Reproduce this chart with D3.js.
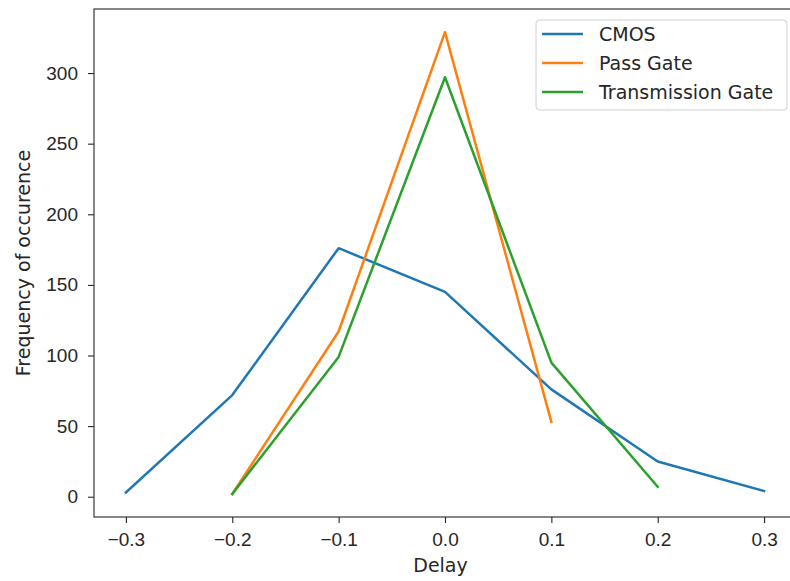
<!DOCTYPE html>
<html>
<head>
<meta charset="utf-8">
<script src="https://cdn.jsdelivr.net/npm/d3@7"></script>
<style>
  html, body { margin: 0; padding: 0; background: #fff; }
  svg { display: block; font-family: "DejaVu Sans", sans-serif; }
  .axis text { font-size: 19px; fill: #262626; }
  .axis path, .axis line { stroke: #262626; stroke-width: 1.1; }
</style>
</head>
<body>
<svg id="chart" width="790" height="581"></svg>
<script>
// Delay distributions for three gate styles
const delays = [-0.3, -0.2, -0.1, 0.0, 0.1, 0.2, 0.3];
const cmos = [3, 72, 176, 145, 76, 25, 4];
const passGate = [null, 2, 117, 329, 53, null, null];
const transGate = [null, 2, 99, 297, 95, 7, null];
const seriesNames = ["CMOS", "Pass Gate", "Transmission Gate"];
const seriesColors = ["#1f77b4", "#ff7f0e", "#2ca02c"];
const xTicks = [-0.3, -0.2, -0.1, 0.0, 0.1, 0.2, 0.3];
const yTicks = [0, 50, 100, 150, 200, 250, 300];

const svg = d3.select("#chart");
const m = { left: 94, right: 796, top: 9, bottom: 517 };
const FS = "19px";

// matplotlib-style 5% margins
const x = d3.scaleLinear().domain([-0.33, 0.33]).range([m.left, m.right]);
const y = d3.scaleLinear().domain([-14.35, 345.35]).range([m.bottom, m.top]);

const series = [cmos, passGate, transGate].map((vals, i) => ({
  name: seriesNames[i], color: seriesColors[i],
  pts: delays.map((d, j) => ({ d, v: vals[j] })).filter((p) => p.v !== null),
}));

const line = d3.line().x((p) => x(p.d)).y((p) => y(p.v));
svg.append("g").selectAll("path").data(series).join("path")
  .attr("d", (s) => line(s.pts))
  .attr("fill", "none").attr("stroke", (s) => s.color)
  .attr("stroke-width", 2.5).attr("stroke-linejoin", "round").attr("stroke-linecap", "square");

// axes
const fmtX = (d) => d3.format(".1f")(d).replace("-", "\u2212");
svg.append("g").attr("class", "axis")
  .attr("transform", `translate(0,${m.bottom})`)
  .call(d3.axisBottom(x).tickValues(xTicks).tickFormat(fmtX).tickSize(6).tickPadding(10))
  .call((g) => g.select(".domain").remove());
svg.append("g").attr("class", "axis")
  .attr("transform", `translate(${m.left},0)`)
  .call(d3.axisLeft(y).tickValues(yTicks).tickSize(6).tickPadding(10))
  .call((g) => g.select(".domain").remove());

// frame
svg.append("rect").attr("x", m.left).attr("y", m.top)
  .attr("width", m.right - m.left).attr("height", m.bottom - m.top)
  .attr("fill", "none").attr("stroke", "#262626").attr("stroke-width", 1.1);

// axis labels
svg.append("text").attr("x", (m.left + 787) / 2).attr("y", 572)
  .attr("text-anchor", "middle").style("font-size", FS).style("fill", "#262626")
  .text("Delay");
svg.append("text").attr("transform", `translate(30,${(m.top + m.bottom) / 2}) rotate(-90)`)
  .attr("text-anchor", "middle").style("font-size", FS).style("fill", "#262626")
  .text("Frequency of occurence");

// legend
const lg = svg.append("g").attr("transform", "translate(536,20)");
lg.append("rect").attr("width", 251).attr("height", 90).attr("rx", 3.5)
  .attr("fill", "#fff").attr("fill-opacity", 0.8).attr("stroke", "#d0d0d0");
const items = lg.selectAll("g").data(series).join("g")
  .attr("transform", (s, i) => `translate(0,${14 + i * 29})`);
items.append("line").attr("x1", 6).attr("x2", 47)
  .attr("stroke", (s) => s.color).attr("stroke-width", 2.5);
items.append("text").attr("x", 63).attr("dy", "0.35em")
  .style("font-size", FS).style("fill", "#262626").text((s) => s.name);
</script>
</body>
</html>
